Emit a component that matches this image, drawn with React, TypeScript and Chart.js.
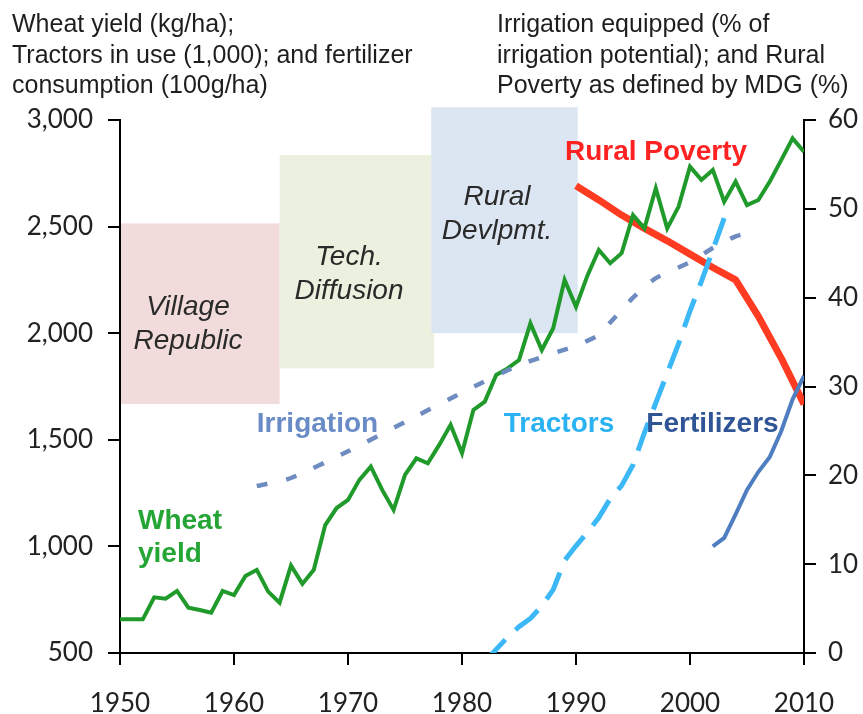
import React, { useEffect, useRef } from 'react';
import { Chart, registerables } from 'chart.js';

Chart.register(...registerables);

// ---------- data ----------
const wheatYears = [
  1950, 1951, 1952, 1953, 1954, 1955, 1956, 1957, 1958, 1959,
  1960, 1961, 1962, 1963, 1964, 1965, 1966, 1967, 1968, 1969,
  1970, 1971, 1972, 1973, 1974, 1975, 1976, 1977, 1978, 1979,
  1980, 1981, 1982, 1983, 1984, 1985, 1986, 1987, 1988, 1989,
  1990, 1991, 1992, 1993, 1994, 1995, 1996, 1997, 1998, 1999,
  2000, 2001, 2002, 2003, 2004, 2005, 2006, 2007, 2008, 2009, 2010,
];
const wheatYield = [
  658, 658, 658, 761, 755, 791, 713, 702, 689, 791,
  772, 861, 890, 788, 736, 910, 824, 890, 1100, 1180,
  1218, 1312, 1374, 1265, 1171, 1335, 1413, 1390, 1476, 1570,
  1437, 1640, 1679, 1804, 1835, 1874, 2046, 1921, 2023, 2250,
  2124, 2270, 2390, 2328, 2375, 2554, 2492, 2680, 2492, 2594,
  2781, 2719, 2766, 2617, 2711, 2601, 2625, 2711, 2812, 2914, 2851,
];

const irrigationYears = [1962, 1965, 1970, 1975, 1980, 1985, 1990, 1992, 1993, 1995, 1997, 2000, 2002, 2004, 2006];
const irrigationShare = [18.8, 19.7, 22.7, 26.0, 29.3, 32.4, 34.6, 35.8, 37.2, 40.0, 42.2, 44.0, 45.6, 46.9, 47.6];

const tractorYears = [1982, 1983, 1984, 1985, 1986, 1987, 1988, 1989, 1990, 1991, 1992, 1993, 1994, 1995, 1996, 1997, 1998, 1999, 2000, 2001, 2002, 2003];
const tractorsInUse = [460, 517, 574, 623, 662, 720, 797, 934, 1003, 1066, 1135, 1224, 1285, 1382, 1533, 1673, 1812, 1951, 2104, 2243, 2390, 2540];

const fertilizerYears = [2002, 2003, 2004, 2005, 2006, 2007, 2008, 2009, 2010];
const fertilizerUse = [1000, 1040, 1150, 1265, 1350, 1420, 1540, 1690, 1800];

const povertyYears = [1990, 1992, 1994, 1996, 1998, 2000, 2002, 2004, 2006, 2008, 2010];
const ruralPoverty = [52.6, 51.0, 49.3, 47.8, 46.4, 44.9, 43.4, 42.0, 37.9, 33.2, 28.0];

const leftTicks = [500, 1000, 1500, 2000, 2500, 3000];
const rightTicks = [0, 10, 20, 30, 40, 50, 60];
const xTicks = [1950, 1960, 1970, 1980, 1990, 2000, 2010];

// policy phases (shaded boxes, in left-axis units)
const phaseNames = [['Village', 'Republic'], ['Tech.', 'Diffusion'], ['Rural', 'Devlpmt.']];
const phaseStart = [1950, 1964, 1977.3];
const phaseEnd = [1964, 1977.55, 1990.15];
const phaseTop = [2515, 2836, 3060];
const phaseBottom = [1668, 1835, 2000];

// ---------- presentation ----------
const phaseColors = ['#f2dcdb', '#ebf1de', '#dce6f2'];
const phaseLabelAnchors = [
  { x: 1955.96, y: 2085 },
  { x: 1970.09, y: 2320 },
  { x: 1983.07, y: 2601 },
];
const seriesLabels = [
  { lines: ['Rural Poverty'], x: 1997.02, y: 2812, color: '#ff2222', align: 'center' },
  { lines: ['Irrigation'], x: 1967.32, y: 1537, color: '#6a8cc6', align: 'center' },
  { lines: ['Tractors'], x: 1988.51, y: 1537, color: '#2ab2f2', align: 'center' },
  { lines: ['Fertilizers'], x: 2001.97, y: 1537, color: '#2f5597', align: 'center' },
  { lines: ['Wheat', 'yield'], x: 1951.58, y: 1080, color: '#25a535', align: 'left' },
];

const SANS = '"Liberation Sans", Arial, sans-serif';
const TICK_FONT = { family: 'Lato, "Noto Sans", sans-serif', size: 26 };

const pts = (xs: number[], ys: number[]) => xs.map((x, i) => ({ x, y: ys[i] }));

const annotationPlugin = {
  id: 'annotations',
  beforeDraw(chart: any) {
    const { ctx, scales } = chart;
    const x = scales.x;
    const y = scales.y;
    ctx.save();
    phaseNames.forEach((_, i) => {
      const l = x.getPixelForValue(phaseStart[i]);
      const r = x.getPixelForValue(phaseEnd[i]);
      const t = y.getPixelForValue(phaseTop[i]);
      const b = y.getPixelForValue(phaseBottom[i]);
      ctx.fillStyle = phaseColors[i];
      ctx.fillRect(l, t, r - l, b - t);
    });
    ctx.font = 'italic 28px ' + SANS;
    ctx.fillStyle = '#2a2a2a';
    ctx.textAlign = 'center';
    ctx.textBaseline = 'alphabetic';
    phaseNames.forEach((lines, i) => {
      const px = x.getPixelForValue(phaseLabelAnchors[i].x);
      const py = y.getPixelForValue(phaseLabelAnchors[i].y);
      lines.forEach((line, j) => ctx.fillText(line, px, py + j * 34));
    });
    ctx.restore();
  },
  afterDatasetsDraw(chart: any) {
    const { ctx, scales } = chart;
    const x = scales.x;
    const y = scales.y;
    ctx.save();
    ctx.font = 'bold 28px ' + SANS;
    ctx.textBaseline = 'alphabetic';
    seriesLabels.forEach((s) => {
      const px = x.getPixelForValue(s.x);
      const py = y.getPixelForValue(s.y);
      ctx.fillStyle = s.color;
      ctx.textAlign = s.align as CanvasTextAlign;
      s.lines.forEach((line, j) => ctx.fillText(line, px, py + j * 33));
    });
    ctx.restore();
  },
};

export default function App() {
  const canvasRef = useRef<HTMLCanvasElement | null>(null);

  useEffect(() => {
    if (!canvasRef.current) return;
    const axisGrid = {
      drawOnChartArea: false,
      drawTicks: true,
      tickLength: 12,
      color: '#000',
      lineWidth: 2,
    };
    const axisBorder = { display: true, color: '#000', width: 2 };
    const chart = new Chart(canvasRef.current, {
      type: 'line',
      data: {
        datasets: [
          {
            label: 'Irrigation',
            data: pts(irrigationYears, irrigationShare),
            yAxisID: 'y2',
            borderColor: '#6f8cc0',
            borderWidth: 4.5,
            borderDash: [11, 19],
            pointRadius: 0,
            tension: 0.2,
          },
          {
            label: 'Tractors',
            data: pts(tractorYears, tractorsInUse),
            yAxisID: 'y',
            borderColor: '#3cb8f6',
            borderWidth: 5,
            borderDash: [30, 14],
            pointRadius: 0,
            tension: 0,
          },
          {
            label: 'Fertilizers',
            data: pts(fertilizerYears, fertilizerUse),
            yAxisID: 'y',
            borderColor: '#4f7ec0',
            borderWidth: 4,
            pointRadius: 0,
            tension: 0,
          },
          {
            label: 'Wheat yield',
            data: pts(wheatYears, wheatYield),
            yAxisID: 'y',
            borderColor: '#1f9a2b',
            borderWidth: 4,
            pointRadius: 0,
            tension: 0,
            borderJoinStyle: 'miter',
          },
          {
            label: 'Rural Poverty',
            data: pts(povertyYears, ruralPoverty),
            yAxisID: 'y2',
            borderColor: '#ff3b22',
            borderWidth: 7,
            pointRadius: 0,
            tension: 0,
            borderJoinStyle: 'round',
          },
        ],
      },
      options: {
        responsive: false,
        animation: false,
        parsing: true,
        layout: { padding: { top: 120, left: 0, right: 0, bottom: 0 } },
        plugins: {
          legend: { display: false },
          tooltip: { enabled: false },
        },
        scales: {
          x: {
            type: 'linear',
            min: xTicks[0],
            max: xTicks[xTicks.length - 1],
            afterBuildTicks: (s: any) => { s.ticks = xTicks.map((v) => ({ value: v })); },
            ticks: {
              autoSkip: false,
              maxRotation: 0,
              font: TICK_FONT,
              color: '#222',
              padding: 23,
              callback: (v: any) => String(v),
            },
            grid: axisGrid,
            border: axisBorder,
            afterFit: (s: any) => { s.height = 61; },
          },
          y: {
            position: 'left',
            min: leftTicks[0],
            max: leftTicks[leftTicks.length - 1],
            afterBuildTicks: (s: any) => { s.ticks = leftTicks.map((v) => ({ value: v })); },
            ticks: {
              autoSkip: false,
              font: TICK_FONT,
              color: '#222',
              padding: 15,
              callback: (v: any) => Number(v).toLocaleString('en-US'),
            },
            grid: axisGrid,
            border: axisBorder,
            afterFit: (s: any) => { s.width = 120; },
          },
          y2: {
            position: 'right',
            min: rightTicks[0],
            max: rightTicks[rightTicks.length - 1],
            afterBuildTicks: (s: any) => { s.ticks = rightTicks.map((v) => ({ value: v })); },
            ticks: {
              autoSkip: false,
              font: TICK_FONT,
              color: '#222',
              padding: 12,
              callback: (v: any) => String(v),
            },
            grid: axisGrid,
            border: axisBorder,
            afterFit: (s: any) => { s.width = 59; },
          },
        },
      },
      plugins: [annotationPlugin],
    } as any);
    return () => chart.destroy();
  }, []);

  const headStyle: React.CSSProperties = {
    position: 'absolute',
    top: 8,
    fontFamily: SANS,
    fontSize: 25,
    lineHeight: '30.5px',
    color: '#1e1e1e',
    whiteSpace: 'nowrap',
  };

  return (
    <div style={{ position: 'fixed', left: 0, top: 0, width: 863, height: 714, background: '#fff' }}>
      <canvas ref={canvasRef} width={863} height={714} style={{ position: 'absolute', left: 0, top: 0 }} />
      <div style={{ ...headStyle, left: 12 }}>
        Wheat yield (kg/ha);<br />
        Tractors in use (1,000); and fertilizer<br />
        consumption (100g/ha)
      </div>
      <div style={{ ...headStyle, left: 497 }}>
        Irrigation equipped (% of<br />
        irrigation potential); and Rural<br />
        Poverty as defined by MDG (%)
      </div>
    </div>
  );
}
